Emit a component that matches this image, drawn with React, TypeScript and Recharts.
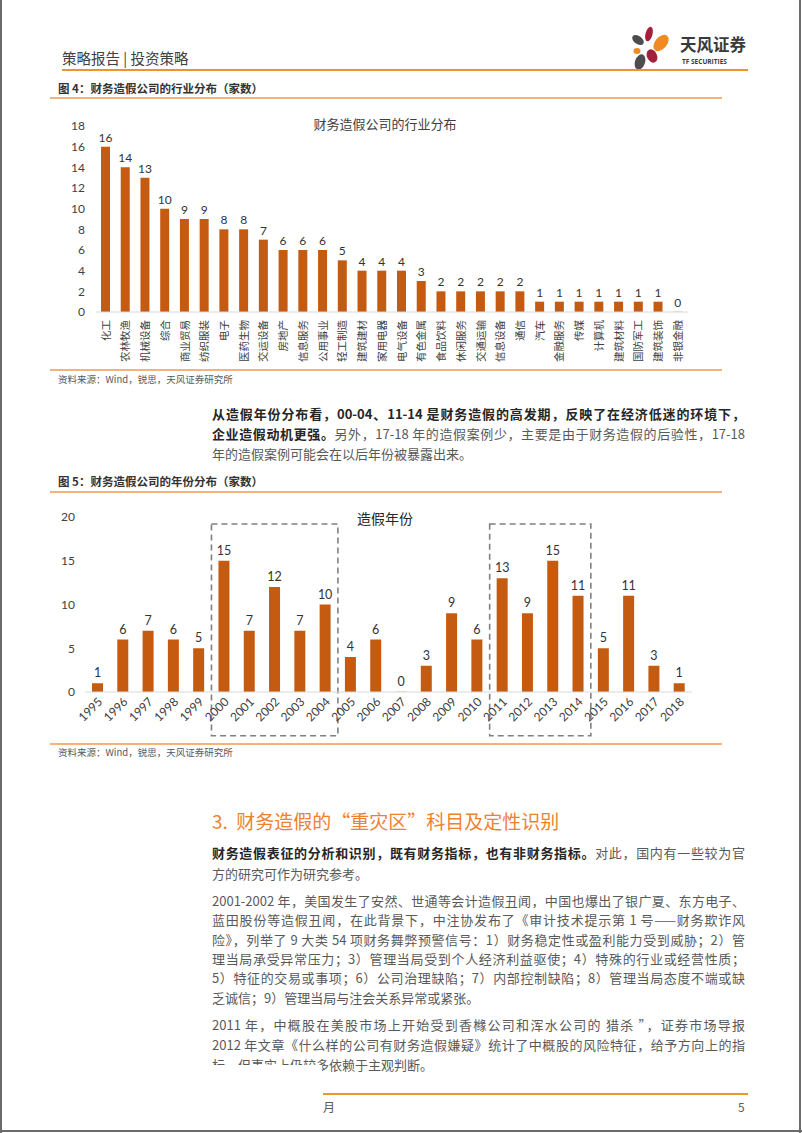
import React from "react"
import { BarChart, Bar, XAxis, YAxis, LabelList, ReferenceArea } from "recharts"

// 图4：行业分布
const industryNames = [
  "化工", "农林牧渔", "机械设备", "综合", "商业贸易", "纺织服装", "电子", "医药生物",
  "交运设备", "房地产", "信息服务", "公用事业", "轻工制造", "建筑建材", "家用电器",
  "电气设备", "有色金属", "食品饮料", "休闲服务", "交通运输", "信息设备", "通信",
  "汽车", "金融服务", "传媒", "计算机", "建筑材料", "国防军工", "建筑装饰", "非银金融",
]
const industryCounts = [16, 14, 13, 10, 9, 9, 8, 8, 7, 6, 6, 6, 5, 4, 4, 4, 3, 2, 2, 2, 2, 2, 1, 1, 1, 1, 1, 1, 1, 0]
const industryTicks = [0, 2, 4, 6, 8, 10, 12, 14, 16, 18]

// 图5：年份分布
const years = [
  "1995", "1996", "1997", "1998", "1999", "2000", "2001", "2002", "2003", "2004", "2005", "2006",
  "2007", "2008", "2009", "2010", "2011", "2012", "2013", "2014", "2015", "2016", "2017", "2018",
]
const yearCounts = [1, 6, 7, 6, 5, 15, 7, 12, 7, 10, 4, 6, 0, 3, 9, 6, 13, 9, 15, 11, 5, 11, 3, 1]
const yearTicks = [0, 5, 10, 15, 20]
// 高发期（虚线框）
const highPeriods = [
  ["2000", "2004"],
  ["2011", "2014"],
]

const industryData = industryNames.map((name, i) => ({ name, value: industryCounts[i] }))
const yearData = years.map((year, i) => ({ year, value: yearCounts[i] }))

const BAR_COLOR = "#C55A11"
const CJK = "'Noto Sans CJK SC', sans-serif"
const CHART_FONT = "Lato, 'Noto Sans CJK SC', sans-serif"

function VerticalTick({ x, y, payload }: any) {
  return (
    <text
      x={x}
      y={y}
      dy="0.36em"
      transform={`rotate(-90, ${x}, ${y})`}
      textAnchor="end"
      fontSize={10.5}
      fill="#404040"
      fontFamily={CJK}
    >
      {payload.value}
    </text>
  )
}

function SlantTick({ x, y, payload }: any) {
  return (
    <text
      x={x + 3}
      y={y}
      dy="0.3em"
      transform={`rotate(-45, ${x + 3}, ${y})`}
      textAnchor="end"
      fontSize={12}
      fill="#404040"
      fontFamily={CHART_FONT}
    >
      {payload.value}
    </text>
  )
}

function Txt({ y, x = 212, w = 533, justify = true, size = 13, color = "#595959", children }: any) {
  return (
    <div
      style={{
        position: "absolute",
        left: x,
        top: y - 10,
        width: w,
        height: 20,
        lineHeight: "20px",
        fontSize: size,
        whiteSpace: "nowrap",
        textAlign: justify ? "justify" : "left",
        textAlignLast: justify ? "justify" : "left",
        color,
        fontFamily: CJK,
      }}
    >
      {children}
    </div>
  )
}

function HLine({ x, y, w, color, h = 1.5 }: any) {
  return <div style={{ position: "absolute", left: x, top: y, width: w, height: h, background: color }} />
}

const B = ({ children }: any) => <span style={{ fontWeight: 700, color: "#262626" }}>{children}</span>

function Logo() {
  return (
    <svg style={{ position: "absolute", left: 625, top: 24 }} width={130} height={50}>
      <ellipse cx={24} cy={10} rx={3.5} ry={7.5} fill="#A3203B" transform="rotate(15 24 10)" />
      <ellipse cx={36} cy={19} rx={6} ry={9.5} fill="#F18A21" transform="rotate(40 36 19)" />
      <ellipse cx={13} cy={16} rx={6.5} ry={4} fill="#4D4D4F" transform="rotate(35 13 16)" />
      <ellipse cx={12} cy={27} rx={3.5} ry={3} fill="#F18A21" />
      <ellipse cx={15} cy={38} rx={5} ry={8} fill="#4D4D4F" transform="rotate(20 15 38)" />
      <ellipse cx={27} cy={32} rx={5} ry={7} fill="#A3203B" transform="rotate(-25 27 32)" />
      <text x={55} y={27} fontSize={16.5} fontWeight={700} fill="#3a3a3a" fontFamily={CJK}>
        天风证券
      </text>
      <text x={57} y={40} fontSize={6.5} fontWeight={700} fill="#3a3a3a" fontFamily="'Open Sans', sans-serif">
        TF SECURITIES
      </text>
    </svg>
  )
}

export default function App() {
  return (
    <div
      style={{
        position: "absolute",
        left: 0,
        top: 0,
        width: 802,
        height: 1133,
        background: "#fff",
        overflow: "hidden",
        fontFamily: CJK,
      }}
    >
      {/* page frame */}
      <div style={{ position: "absolute", left: 0, top: 0, width: 2, height: 1133, background: "#6b6b6b" }} />
      <div style={{ position: "absolute", left: 799, top: 0, width: 2, height: 1133, background: "#6b6b6b" }} />
      <div style={{ position: "absolute", left: 0, top: 1130, width: 802, height: 2, background: "#6b6b6b" }} />

      {/* header */}
      <div style={{ position: "absolute", left: 62, top: 48, fontSize: 14.5, lineHeight: "20px", color: "#404040" }}>
        策略报告 | 投资策略
      </div>
      <Logo />
      <HLine x={62} y={69} w={686} color="#F0932B" h={2} />

      {/* 图4 */}
      <div style={{ position: "absolute", left: 58, top: 79, fontSize: 11.5, lineHeight: "18px", fontWeight: 700, color: "#333" }}>
        图 4：财务造假公司的行业分布（家数）
      </div>
      <HLine x={50} y={97} w={672} color="#F6B27A" />
      <div style={{ position: "absolute", left: 50, top: 100 }}>
        <BarChart width={660} height={270} data={industryData} margin={{ top: 26, right: 22, left: 16, bottom: 4 }}>
          <XAxis
            dataKey="name"
            interval={0}
            tick={<VerticalTick />}
            tickLine={false}
            axisLine={{ stroke: "#d9d9d9" }}
            height={54}
          />
          <YAxis
            type="number"
            domain={[0, 18]}
            ticks={industryTicks}
            width={30}
            axisLine={false}
            tickLine={false}
            tickMargin={5}
            tick={{ fontSize: 12, fill: "#404040", fontFamily: CHART_FONT }}
          />
          <Bar dataKey="value" fill={BAR_COLOR} barSize={9} minPointSize={0.2} isAnimationActive={false}>
            <LabelList dataKey="value" position="top" offset={5} fontSize={12} fill="#333" fontFamily={CHART_FONT} />
          </Bar>
        </BarChart>
      </div>
      <div style={{ position: "absolute", left: 285, top: 114, width: 200, textAlign: "center", fontSize: 13, color: "#404040" }}>
        财务造假公司的行业分布
      </div>
      <HLine x={50} y={369} w={672} color="#F6B27A" />
      <div style={{ position: "absolute", left: 58, top: 373, fontSize: 9.5, color: "#595959", lineHeight: "13px" }}>
        资料来源：Wind，锐思，天风证券研究所
      </div>

      {/* 正文一 */}
      <Txt y={414}>
        <B>从造假年份分布看，00-04、11-14 是财务造假的高发期，反映了在经济低迷的环境下，</B>
      </Txt>
      <Txt y={434}>
        <B>企业造假动机更强。</B>另外，17-18 年的造假案例少，主要是由于财务造假的后验性，17-18
      </Txt>
      <Txt y={454} justify={false}>
        年的造假案例可能会在以后年份被暴露出来。
      </Txt>

      {/* 图5 */}
      <div style={{ position: "absolute", left: 58, top: 472, fontSize: 11.5, lineHeight: "18px", fontWeight: 700, color: "#333" }}>
        图 5：财务造假公司的年份分布（家数）
      </div>
      <HLine x={50} y={491} w={672} color="#F6B27A" />
      <div style={{ position: "absolute", left: 50, top: 495 }}>
        <BarChart width={660} height={270} data={yearData} margin={{ top: 22, right: 18, left: 5, bottom: 23 }}>
          <XAxis
            dataKey="year"
            interval={0}
            tick={<SlantTick />}
            tickLine={false}
            axisLine={{ stroke: "#d9d9d9" }}
            height={50}
          />
          <YAxis
            type="number"
            domain={[0, 20]}
            ticks={yearTicks}
            width={30}
            axisLine={false}
            tickLine={false}
            tickMargin={4}
            tick={{ fontSize: 12, fill: "#404040", fontFamily: CHART_FONT }}
          />
          <Bar dataKey="value" fill={BAR_COLOR} barSize={11} minPointSize={0.2} isAnimationActive={false}>
            <LabelList dataKey="value" position="top" offset={6} fontSize={12.5} fill="#333" fontFamily={CHART_FONT} />
          </Bar>
          {highPeriods.map(([a, b]) => (
            <ReferenceArea
              key={a}
              x1={a}
              x2={b}
              y1={-5}
              y2={19.2}
              ifOverflow="visible"
              fill="none"
              fillOpacity={0}
              stroke="#808080"
              strokeWidth={1.6}
              strokeDasharray="6 4"
            />
          ))}
        </BarChart>
      </div>
      <div style={{ position: "absolute", left: 335, top: 508, width: 100, textAlign: "center", fontSize: 14, color: "#262626" }}>
        造假年份
      </div>
      <HLine x={50} y={743} w={672} color="#F6B27A" />
      <div style={{ position: "absolute", left: 58, top: 746, fontSize: 9.5, color: "#595959", lineHeight: "13px" }}>
        资料来源：Wind，锐思，天风证券研究所
      </div>

      {/* 3. 标题 */}
      <div style={{ position: "absolute", left: 212, top: 807, fontSize: 19, lineHeight: "28px", color: "#EE8130", whiteSpace: "pre" }}>
        3.  财务造假的“重灾区”科目及定性识别
      </div>

      <Txt y={853}>
        <B>财务造假表征的分析和识别，既有财务指标，也有非财务指标。</B>对此，国内有一些较为官
      </Txt>
      <Txt y={874} justify={false}>
        方的研究可作为研究参考。
      </Txt>

      <Txt y={901}>2001-2002 年，美国发生了安然、世通等会计造假丑闻，中国也爆出了银广夏、东方电子、</Txt>
      <Txt y={920}>蓝田股份等造假丑闻，在此背景下，中注协发布了《审计技术提示第 1 号——财务欺诈风</Txt>
      <Txt y={940}>险》，列举了 9 大类 54 项财务舞弊预警信号：1）财务稳定性或盈利能力受到威胁；2）管</Txt>
      <Txt y={959}>理当局承受异常压力；3）管理当局受到个人经济利益驱使；4）特殊的行业或经营性质；</Txt>
      <Txt y={978}>5）特征的交易或事项；6）公司治理缺陷；7）内部控制缺陷；8）管理当局态度不端或缺</Txt>
      <Txt y={998} justify={false}>
        乏诚信；9）管理当局与注会关系异常或紧张。
      </Txt>

      <Txt y={1025}>2011 年，中概股在美股市场上开始受到香橼公司和浑水公司的 猎杀 ”，证券市场导报</Txt>
      <Txt y={1045}>2012 年文章《什么样的公司有财务造假嫌疑》统计了中概股的风险特征，给予方向上的指</Txt>
      <Txt y={1065} justify={false}>
        标，但事实上仍较多依赖于主观判断。
      </Txt>
      <div style={{ position: "absolute", left: 210, top: 1065, width: 112, height: 9, background: "#fff" }} />

      {/* footer */}
      <HLine x={323} y={1093} w={425} color="#E99A2C" h={2} />
      <div style={{ position: "absolute", left: 323, top: 1099, fontSize: 12, color: "#595959", lineHeight: "16px" }}>月</div>
      <div style={{ position: "absolute", left: 738, top: 1099, fontSize: 12, color: "#595959", lineHeight: "16px" }}>5</div>
    </div>
  )
}
